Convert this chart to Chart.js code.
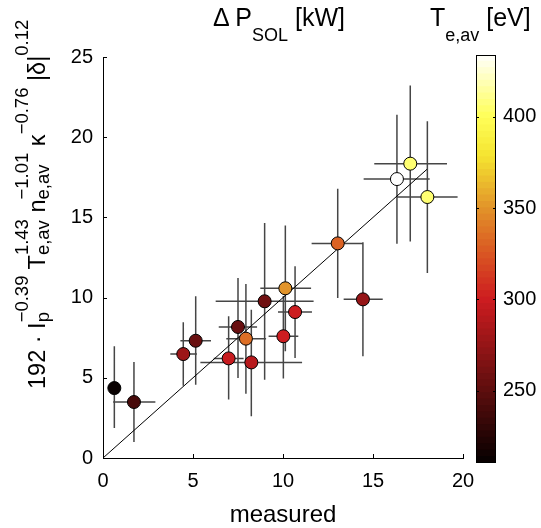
<!DOCTYPE html>
<html>
<head>
<meta charset="utf-8">
<script src="https://cdn.jsdelivr.net/npm/chart.js@4.4.1/dist/chart.umd.min.js"></script>
<style>
  body { margin: 0; background: #fff; font-family: "Liberation Sans", Arial, sans-serif; color: #000; }
  #wrap { position: relative; width: 541px; height: 528px; overflow: hidden; }
  #main { position: absolute; left: 0; top: 0; }
  #cbar { position: absolute; left: 440px; top: 0; }
  .lbl { position: absolute; white-space: nowrap; }
  .ss { display: inline-block; vertical-align: -4px; font-size: 18.5px; line-height: 21px; }
  .ss span { display: block; }
  .sub { font-size: 18px; vertical-align: -15px; }
</style>
</head>
<body>
<div id="wrap">
  <canvas id="main" width="541" height="528"></canvas>
  <canvas id="cbar" width="101" height="528"></canvas>
  <div class="lbl" id="title" style="left:213px; top:2px; font-size:25px; line-height:30px;">&Delta; P<span class="sub">SOL</span> [kW]</div>
  <div class="lbl" id="cbtitle" style="left:430px; top:2px; font-size:25px; line-height:30px;">T<span class="sub">e,av</span> [eV]</div>
  <div class="lbl" id="ylabel" style="left:11px; top:389px; font-size:23.5px; line-height:23px; transform-origin:0 0; transform:rotate(-90deg);">192 &middot; I<span class="ss"><span>&minus;0.39</span><span>p</span></span> T<span class="ss"><span>1.43</span><span>e,av</span></span> n<span class="ss"><span>&minus;1.01</span><span>e,av</span></span> &kappa;<span class="ss"><span>&minus;0.76</span><span>&nbsp;</span></span> |&delta;|<span class="ss"><span>0.12</span><span>&nbsp;</span></span></div>
</div>
<script>
// measured Delta P_SOL [kW] with horizontal error range
const measured   = [0.63, 1.72, 4.46, 5.15, 6.98, 8.24, 7.50, 7.94, 8.98, 10.13, 10.02, 10.67, 13.04, 14.44, 16.33, 17.07, 18.02];
const measuredLo = [0.63, 0.56, 3.74, 4.30, 6.15, 5.41, 6.43, 6.85, 6.26, 8.74, 9.20, 9.72, 11.59, 13.37, 14.48, 15.07, 16.33];
const measuredHi = [0.63, 2.91, 5.22, 6.00, 7.81, 11.06, 8.56, 9.06, 11.70, 11.56, 10.85, 11.61, 14.48, 15.54, 18.15, 19.11, 19.70];
// scaling law value with vertical error range
const scaling    = [4.36, 3.49, 6.48, 7.31, 6.21, 5.96, 8.17, 7.44, 9.77, 10.58, 7.59, 9.10, 13.38, 9.89, 17.39, 18.35, 16.27];
const scalingLo  = [1.87, 1.00, 4.51, 4.57, 3.64, 2.60, 4.99, 4.01, 4.88, 6.65, 4.95, 6.23, 9.97, 6.34, 13.36, 13.49, 11.53];
const scalingHi  = [6.96, 5.98, 8.46, 10.08, 8.83, 9.25, 11.22, 10.85, 14.65, 14.50, 10.10, 11.95, 16.79, 13.45, 21.40, 23.23, 20.99];
// T_e,av [eV] per point (colour)
const teAv       = [212, 240, 278, 255, 297, 290, 255, 335, 258, 350, 300, 300, 330, 275, 434, 405, 405];

const fitX = [0, 18];
const fitY = [0, 18];
const xTicks = [0, 5, 10, 15, 20];
const yTicks = [0, 5, 10, 15, 20, 25];
const cbTicks = [250, 300, 350, 400];
const cbMin = 210.4;
const cbMax = 433.8;
const cbLevels = 64;

// hot-like colormap as drawn in the figure
const hotStops = [
  [0.00, [5, 0, 0]],
  [0.18, [95, 14, 14]],
  [0.40, [205, 28, 32]],
  [0.52, [218, 90, 35]],
  [0.625, [226, 148, 42]],
  [0.75, [245, 228, 48]],
  [0.85, [255, 255, 90]],
  [1.00, [255, 255, 255]],
];

function hotColor(te) {
  let t = (te - cbMin) / (cbMax - cbMin);
  t = Math.max(0, Math.min(1, t));
  for (let i = 1; i < hotStops.length; i++) {
    const [t1, c1] = hotStops[i];
    const [t0, c0] = hotStops[i - 1];
    if (t <= t1) {
      const f = (t - t0) / (t1 - t0);
      const c = c0.map((v, k) => Math.round(v + (c1[k] - v) * f));
      return `rgb(${c[0]},${c[1]},${c[2]})`;
    }
  }
  return 'rgb(255,255,255)';
}

const FONT = '"Liberation Sans", Arial, sans-serif';

// error bars under the markers
const errorBars = {
  id: 'errorBars',
  beforeDatasetsDraw(chart) {
    const { ctx, scales: { x, y } } = chart;
    ctx.save();
    ctx.strokeStyle = '#464646';
    ctx.lineWidth = 1.5;
    ctx.beginPath();
    measured.forEach((mx, i) => {
      const py = y.getPixelForValue(scaling[i]);
      const px = x.getPixelForValue(mx);
      if (measuredHi[i] > measuredLo[i]) {
        ctx.moveTo(x.getPixelForValue(measuredLo[i]), py);
        ctx.lineTo(x.getPixelForValue(measuredHi[i]), py);
      }
      ctx.moveTo(px, y.getPixelForValue(scalingLo[i]));
      ctx.lineTo(px, y.getPixelForValue(scalingHi[i]));
    });
    ctx.stroke();
    ctx.restore();
  },
};

// inward tick marks, matlab style
const innerTicks = {
  id: 'innerTicks',
  afterDraw(chart) {
    const { ctx, chartArea: a, scales: { x, y } } = chart;
    ctx.save();
    ctx.strokeStyle = '#000';
    ctx.lineWidth = 1;
    ctx.beginPath();
    xTicks.forEach((v) => {
      const px = Math.round(x.getPixelForValue(v)) + 0.5;
      ctx.moveTo(px, a.bottom);
      ctx.lineTo(px, a.bottom - 4);
    });
    yTicks.forEach((v) => {
      const py = Math.round(y.getPixelForValue(v)) + 0.5;
      ctx.moveTo(a.left, py);
      ctx.lineTo(a.left + 4, py);
    });
    ctx.stroke();
    ctx.restore();
  },
};

new Chart(document.getElementById('main'), {
  type: 'scatter',
  data: {
    datasets: [
      {
        data: measured.map((mx, i) => ({ x: mx, y: scaling[i] })),
        pointRadius: 6.5,
        pointHoverRadius: 6.5,
        pointBackgroundColor: teAv.map(hotColor),
        pointBorderColor: '#000',
        pointBorderWidth: 1,
        order: 0,
      },
      {
        type: 'line',
        data: fitX.map((v, i) => ({ x: v, y: fitY[i] })),
        borderColor: '#000',
        borderWidth: 1,
        pointRadius: 0,
        fill: false,
        order: 1,
      },
    ],
  },
  options: {
    responsive: false,
    animation: false,
    events: [],
    layout: { padding: { left: 0, top: 57, right: 78, bottom: 0 } },
    plugins: { legend: { display: false }, tooltip: { enabled: false } },
    scales: {
      x: {
        type: 'linear',
        min: 0,
        max: 20,
        afterBuildTicks: (s) => { s.ticks = xTicks.map((v) => ({ value: v })); },
        afterFit: (s) => { s.height = 70; },
        grid: { display: false, drawTicks: false },
        border: { display: true, color: '#000', width: 1 },
        ticks: { color: '#000', font: { family: FONT, size: 20 }, padding: 11, maxRotation: 0 },
        title: { display: true, text: 'measured', color: '#000', font: { family: FONT, size: 24, lineHeight: 1 }, padding: { top: 0, bottom: 1 } },
      },
      y: {
        type: 'linear',
        min: 0,
        max: 25,
        afterBuildTicks: (s) => { s.ticks = yTicks.map((v) => ({ value: v })); },
        afterFit: (s) => { s.width = 103; },
        grid: { display: false, drawTicks: false },
        border: { display: true, color: '#000', width: 1 },
        ticks: { color: '#000', font: { family: FONT, size: 20 }, padding: 10 },
      },
    },
  },
  plugins: [errorBars, innerTicks],
});

// colorbar as floating bars on its own linear scale
const cbStep = (cbMax - cbMin) / cbLevels;
const cbSegments = Array.from({ length: cbLevels }, (_, k) => ({
  lo: cbMin + k * cbStep,
  hi: cbMin + (k + 1) * cbStep,
}));

const cbFrame = {
  id: 'cbFrame',
  afterDraw(chart) {
    const { ctx, chartArea: a, scales: { y } } = chart;
    ctx.save();
    ctx.strokeStyle = '#000';
    ctx.lineWidth = 1;
    ctx.strokeRect(Math.round(a.left) + 0.5, Math.round(a.top) + 0.5, Math.round(a.right - a.left) - 1, Math.round(a.bottom - a.top) - 1);
    ctx.beginPath();
    cbTicks.forEach((v) => {
      const py = Math.round(y.getPixelForValue(v)) + 0.5;
      ctx.moveTo(a.left, py);
      ctx.lineTo(a.left + 3, py);
      ctx.moveTo(a.right, py);
      ctx.lineTo(a.right - 3, py);
    });
    ctx.stroke();
    ctx.restore();
  },
};

new Chart(document.getElementById('cbar'), {
  type: 'bar',
  data: {
    labels: ['T'],
    datasets: cbSegments.map((s) => ({
      data: [[s.lo, s.hi + cbStep * 0.05]],
      backgroundColor: hotColor((s.lo + s.hi) / 2),
      borderWidth: 0,
      grouped: false,
      barPercentage: 1,
      categoryPercentage: 1,
    })),
  },
  options: {
    responsive: false,
    animation: false,
    events: [],
    layout: { padding: { left: 36, top: 55, right: 0, bottom: 65 } },
    plugins: { legend: { display: false }, tooltip: { enabled: false } },
    scales: {
      x: { display: false },
      y: {
        type: 'linear',
        position: 'right',
        min: cbMin,
        max: cbMax,
        afterBuildTicks: (s) => { s.ticks = cbTicks.map((v) => ({ value: v })); },
        afterFit: (s) => { s.width = 45; },
        grid: { display: false, drawTicks: false },
        border: { display: false },
        ticks: { color: '#000', font: { family: FONT, size: 20 }, padding: 7 },
      },
    },
  },
  plugins: [cbFrame],
});
</script>
</body>
</html>
